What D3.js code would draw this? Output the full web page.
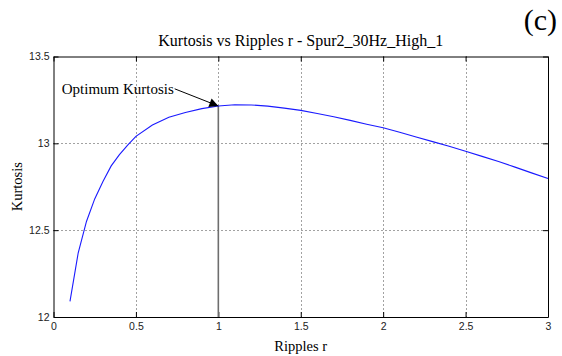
<!DOCTYPE html>
<html>
<head>
<meta charset="utf-8">
<script src="https://cdn.jsdelivr.net/npm/d3@7"></script>
<style>
  html, body { margin: 0; padding: 0; background: #fff; }
  svg { display: block; }
</style>
</head>
<body>
<svg id="chart" width="562" height="356"></svg>
<script>
// Kurtosis of the signal as a function of the ripple parameter r
const ripples  = [0.1, 0.15, 0.2, 0.25, 0.3, 0.35, 0.4, 0.45, 0.5, 0.6, 0.7, 0.8, 0.9, 1.0,
                  1.1, 1.2, 1.3, 1.4, 1.5, 1.6, 1.7, 1.8, 1.9, 2.0, 2.1, 2.2, 2.3, 2.4,
                  2.5, 2.6, 2.7, 2.8, 2.9, 3.0];
const kurtosis = [12.09, 12.37, 12.55, 12.68, 12.78, 12.87, 12.935, 12.99, 13.04, 13.105, 13.15, 13.178, 13.20, 13.215,
                  13.222, 13.221, 13.214, 13.203, 13.19, 13.172, 13.153, 13.132, 13.11, 13.09, 13.064, 13.037, 13.01, 12.983,
                  12.954, 12.925, 12.895, 12.863, 12.83, 12.797];

const xTicks = [0, 0.5, 1, 1.5, 2, 2.5, 3];
const yTicks = [12, 12.5, 13, 13.5];

// Optimum marker and its annotation
const optimumR = [1.0];
const optimumK = [13.215];
const annotationText = "Optimum Kurtosis";
const annotationAnchor = [0.05, 13.314];   // where the label starts
const arrowTail = [0.735, 13.314];

const titleText = "Kurtosis vs Ripples r - Spur2_30Hz_High_1";
const panelLabel = "(c)";

const SERIF = "'Liberation Serif', 'Times New Roman', Times, serif";
const SANS = "'Liberation Sans', Arial, Helvetica, sans-serif";

const margin = { left: 53.5, right: 14, top: 56.5, bottom: 39 };
const W = 562, H = 356;
const svg = d3.select("#chart");

const x = d3.scaleLinear().domain([0, 3]).range([margin.left, W - margin.right]);
const y = d3.scaleLinear().domain([12, 13.5]).range([H - margin.bottom, margin.top]);

const x0 = x.range()[0], x1 = x.range()[1];
const y0 = y.range()[0], y1 = y.range()[1];

// dotted grid
const grid = svg.append("g").attr("stroke", "#444").attr("stroke-width", 1)
  .attr("stroke-dasharray", "1,3");
grid.selectAll(".gx").data(xTicks.slice(1, -1)).join("line")
  .attr("x1", d => Math.round(x(d)) + 0.5).attr("x2", d => Math.round(x(d)) + 0.5)
  .attr("y1", y1).attr("y2", y0);
grid.selectAll(".gy").data(yTicks.slice(1, -1)).join("line")
  .attr("y1", d => Math.round(y(d)) + 0.5).attr("y2", d => Math.round(y(d)) + 0.5)
  .attr("x1", x0).attr("x2", x1);

// axes (inward ticks, box style)
const fmt = d => String(d);
const axB = svg.append("g").attr("transform", `translate(0,${y0})`)
  .call(d3.axisBottom(x).tickValues(xTicks).tickFormat(fmt).tickSizeInner(-5).tickSizeOuter(0).tickPadding(7));
const axT = svg.append("g").attr("transform", `translate(0,${y1})`)
  .call(d3.axisTop(x).tickValues(xTicks).tickFormat("").tickSizeInner(-5).tickSizeOuter(0));
const axL = svg.append("g").attr("transform", `translate(${x0},0)`)
  .call(d3.axisLeft(y).tickValues(yTicks).tickFormat(fmt).tickSizeInner(-5).tickSizeOuter(0).tickPadding(4));
const axR = svg.append("g").attr("transform", `translate(${x1},0)`)
  .call(d3.axisRight(y).tickValues(yTicks).tickFormat("").tickSizeInner(-5).tickSizeOuter(0));
[axB, axT, axL, axR].forEach(a => {
  a.select(".domain").attr("stroke", "#000");
  a.selectAll(".tick line").attr("stroke", "#000");
  a.selectAll(".tick text").attr("font-family", SANS).attr("font-size", 10.5).attr("fill", "#222");
});
axB.selectAll(".tick text").attr("dy", "0.6em");
axL.selectAll(".tick text").attr("dy", "0.3em");

// optimum vertical marker
svg.selectAll(".opt").data(optimumR).join("line")
  .attr("x1", d => x(d)).attr("x2", d => x(d))
  .attr("y1", y0).attr("y2", (d, i) => y(optimumK[i]))
  .attr("stroke", "#6e6e6e").attr("stroke-width", 1.6);

// curve
const line = d3.line().x((d, i) => x(ripples[i])).y(d => y(d));
svg.append("path").datum(kurtosis)
  .attr("d", line).attr("fill", "none")
  .attr("stroke", "#1a1aff").attr("stroke-width", 1.1);

// annotation arrow
svg.append("defs").append("marker")
  .attr("id", "arrowhead").attr("viewBox", "0 0 10 10")
  .attr("refX", 10).attr("refY", 5)
  .attr("markerWidth", 12).attr("markerHeight", 9)
  .attr("markerUnits", "userSpaceOnUse")
  .attr("orient", "auto")
  .append("path").attr("d", "M0,0 L10,5 L0,10 Z").attr("fill", "#000");
svg.append("line")
  .attr("x1", x(arrowTail[0])).attr("y1", y(arrowTail[1]))
  .attr("x2", x(optimumR[0])).attr("y2", y(optimumK[0]))
  .attr("stroke", "#000").attr("stroke-width", 1)
  .attr("marker-end", "url(#arrowhead)");
svg.append("text").attr("font-family", SERIF)
  .attr("x", x(annotationAnchor[0])).attr("y", y(annotationAnchor[1]))
  .attr("dy", "0.35em").attr("font-size", 15)
  .text(annotationText);

// titles
svg.append("text").attr("font-family", SERIF)
  .attr("x", (x0 + x1) / 2).attr("y", 46)
  .attr("text-anchor", "middle").attr("font-size", 16)
  .text(titleText);
svg.append("text").attr("font-family", SERIF)
  .attr("x", (x0 + x1) / 2).attr("y", 351)
  .attr("text-anchor", "middle").attr("font-size", 14.5)
  .text("Ripples r");
svg.append("text").attr("font-family", SERIF)
  .attr("transform", `translate(22,${(y0 + y1) / 2}) rotate(-90)`)
  .attr("text-anchor", "middle").attr("font-size", 14.5)
  .text("Kurtosis");
svg.append("text").attr("font-family", SERIF)
  .attr("x", 557).attr("y", 30)
  .attr("text-anchor", "end").attr("font-size", 30)
  .text(panelLabel);
</script>
</body>
</html>
